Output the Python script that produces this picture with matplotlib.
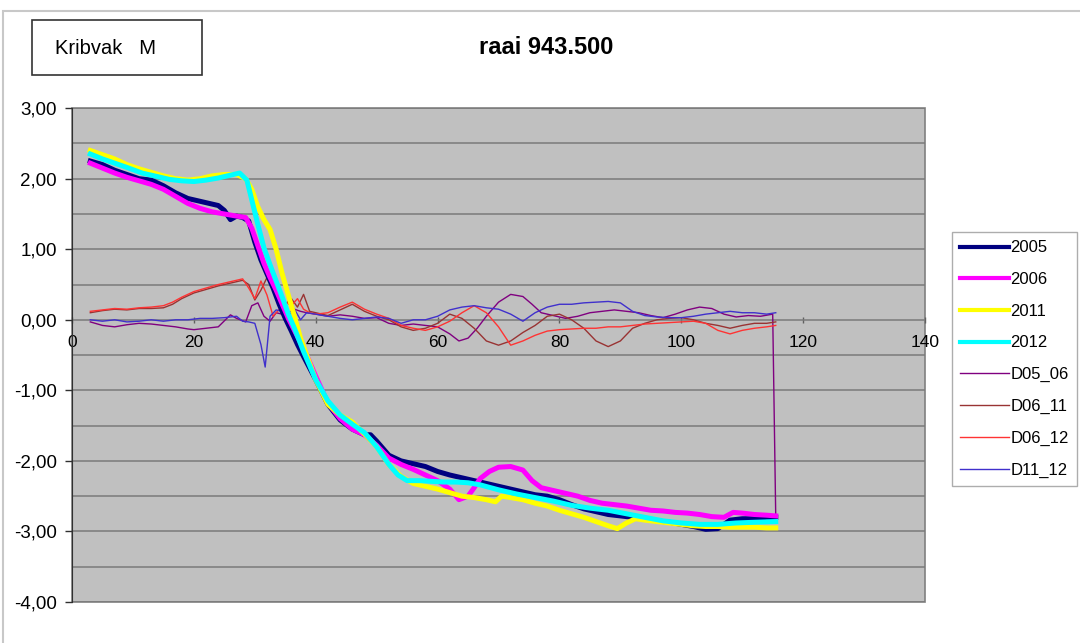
import numpy as np
import matplotlib.pyplot as plt
from matplotlib.patches import Rectangle
from matplotlib.ticker import FuncFormatter, MultipleLocator, FixedLocator
from matplotlib.lines import Line2D

plt.rcParams['font.family'] = ['Liberation Sans', 'DejaVu Sans']

# --- data (afstand, hoogte) ---
x_2005 = [3, 5, 7, 9, 11, 13, 15, 17, 19, 21, 23, 24, 25, 26, 27, 28, 29, 30, 31, 32, 33, 34, 35, 36, 37, 38,
          40, 42, 44, 46, 48, 49, 50, 52, 54, 56, 58, 60, 62, 64, 66, 68, 70, 72, 74, 76, 78, 80, 82, 84, 86,
          88, 90, 92, 94, 96, 98, 100, 102, 104, 106, 108, 110, 112, 114, 115.5]
y_2005 = [2.25, 2.2, 2.12, 2.06, 2.0, 1.98, 1.9, 1.8, 1.72, 1.68, 1.64, 1.62, 1.55, 1.42, 1.47, 1.45, 1.4, 1.1,
          0.85, 0.65, 0.45, 0.22, 0.02, -0.16, -0.35, -0.52, -0.85, -1.2, -1.42, -1.55, -1.63, -1.63, -1.72,
          -1.92, -2.0, -2.04, -2.08, -2.15, -2.2, -2.24, -2.28, -2.32, -2.36, -2.4, -2.44, -2.48, -2.5, -2.55,
          -2.62, -2.68, -2.72, -2.76, -2.78, -2.8, -2.82, -2.85, -2.87, -2.9, -2.93, -2.97, -2.96, -2.84,
          -2.82, -2.82, -2.8, -2.8]

x_2006 = [3, 5, 7, 9, 11, 13, 15, 17, 19, 21, 23, 25, 27, 28.5, 29.5, 30.5, 31.5, 32.5, 33.5, 34.5, 35.5, 36.5,
          37.5, 38.5, 40, 42, 44, 46, 48, 50, 52, 54, 56, 58, 60, 62, 63.5, 65, 66, 67, 68.5, 70, 72, 74, 75.5,
          77, 79, 81, 83, 85, 87, 89, 91, 93, 95, 97, 99, 101, 103, 105, 107, 108.5, 110, 112, 114, 115.5]
y_2006 = [2.22, 2.15, 2.08, 2.02, 1.97, 1.92, 1.85, 1.75, 1.65, 1.58, 1.53, 1.5, 1.47, 1.45, 1.3, 1.05, 0.8,
          0.6, 0.42, 0.22, 0.02, -0.15, -0.32, -0.5, -0.8, -1.18, -1.4, -1.55, -1.63, -1.78, -1.96, -2.05,
          -2.12, -2.2, -2.28, -2.4, -2.55, -2.5, -2.38, -2.25, -2.15, -2.09, -2.08, -2.13, -2.28, -2.38,
          -2.42, -2.46, -2.5, -2.56, -2.6, -2.62, -2.64, -2.67, -2.7, -2.71, -2.73, -2.74, -2.76, -2.79,
          -2.8, -2.73, -2.74, -2.76, -2.77, -2.78]

x_2011 = [3, 5, 7, 9, 11, 13, 15, 17, 19, 21, 23, 25, 27, 28.5, 29.5, 30.5, 31.5, 32.5, 33.5, 34.5, 35.5, 36.5,
          37.5, 38.5, 40, 42, 44, 46, 48, 50, 52, 54, 56, 58, 60, 62, 64, 66, 68, 69.5, 70.5, 72, 74, 76, 78,
          80, 82, 84, 86, 88, 89.5, 91, 92.5, 94, 96, 98, 100, 102, 104, 106, 108, 110, 112, 114, 115.5]
y_2011 = [2.4, 2.34, 2.28, 2.2, 2.14, 2.09, 2.04, 2.0, 1.98, 2.0, 2.04, 2.06, 2.06, 2.0, 1.85, 1.6, 1.42,
          1.28, 1.0, 0.65, 0.35, 0.05, -0.26, -0.5, -0.85, -1.2, -1.35, -1.45, -1.62, -1.8, -2.05, -2.22,
          -2.32, -2.36, -2.4, -2.45, -2.5, -2.52, -2.55, -2.58, -2.5, -2.52, -2.55, -2.6, -2.64, -2.7, -2.75,
          -2.8, -2.86, -2.92, -2.96, -2.88, -2.82, -2.84, -2.86, -2.88, -2.9, -2.92, -2.93, -2.93, -2.94,
          -2.94, -2.94, -2.95, -2.95]

x_2012 = [3, 5, 7, 9, 11.5, 14, 16, 18, 20, 22, 24, 26, 27.5, 28.7, 29.5, 30.5, 31.5, 32.5, 33.5, 34.5, 35.5,
          36.5, 38, 40, 42, 44, 46, 48, 50, 52, 53.5, 55, 57, 59, 61, 63, 65, 67, 70, 73, 76, 79, 82, 85, 88,
          91, 94, 97, 100, 103, 106, 109, 112, 115.5]
y_2012 = [2.35, 2.28, 2.22, 2.16, 2.08, 2.03, 1.99, 1.97, 1.96, 1.98, 2.01, 2.05, 2.08, 1.98, 1.7, 1.35,
          1.02, 0.78, 0.55, 0.32, 0.08, -0.12, -0.45, -0.85, -1.15, -1.35, -1.48, -1.6, -1.8, -2.05, -2.2,
          -2.28, -2.28, -2.29, -2.3, -2.3, -2.31, -2.34, -2.41, -2.47, -2.52, -2.57, -2.63, -2.67, -2.7,
          -2.75, -2.8, -2.85, -2.88, -2.9, -2.9, -2.88, -2.87, -2.86]

x_d0506 = [3, 5, 7, 9, 11, 13, 15, 17, 19, 20, 22, 24, 26, 27, 28.5, 29.5, 30.5, 31.5, 32.5, 33.5, 34.5, 35.5,
           36.5, 37.5, 38.5, 40, 42, 44, 46, 48, 50, 52, 54, 56, 58, 60, 62, 63.5, 65, 66.5, 68, 70, 72, 74,
           75.5, 77, 79, 81, 83, 85, 87, 89, 91, 93, 95, 97, 99, 101, 103, 105, 107, 109, 111, 113, 115, 115.5]
y_d0506 = [-0.03, -0.08, -0.1, -0.07, -0.05, -0.06, -0.08, -0.1, -0.13, -0.14, -0.12, -0.1, 0.07, 0.02,
           -0.03, 0.2, 0.24, 0.05, -0.02, 0.1, 0.08, 0.04, 0.15, 0.12, 0.1, 0.08, 0.05, 0.07, 0.05, 0.02,
           0.03, -0.05, -0.08, -0.06, -0.08, -0.1, -0.2, -0.3, -0.26, -0.12, 0.05, 0.25, 0.36, 0.33, 0.22,
           0.1, 0.06, 0.02, 0.05, 0.1, 0.12, 0.14, 0.12, 0.1, 0.06, 0.03, 0.08, 0.14, 0.18, 0.16, 0.08, 0.04,
           0.06, 0.05, 0.08, -2.8]

x_d = [3, 5, 7, 9, 11, 13, 15, 16.5, 18, 20, 22, 24, 26, 28, 29, 30, 31, 32, 33, 34, 35, 36, 37, 38, 39, 40,
       42, 44, 46, 48, 50, 52, 54, 56, 58, 60, 62, 64, 66, 68, 70, 72, 74, 76, 78, 80, 82, 84, 86, 88, 90, 92,
       94, 96, 98, 100, 102, 104, 106, 108, 110, 112, 114, 115.5]
y_d0611 = [0.1, 0.13, 0.15, 0.14, 0.16, 0.16, 0.17, 0.22, 0.3, 0.38, 0.43, 0.48, 0.52, 0.56, 0.5, 0.28, 0.42,
           0.6, 0.45, 0.3, 0.22, 0.3, 0.18, 0.36, 0.12, 0.1, 0.06, 0.14, 0.22, 0.12, 0.05, 0.0, -0.1, -0.15,
           -0.12, -0.05, 0.08, 0.02, -0.12, -0.3, -0.36, -0.3, -0.18, -0.08, 0.05, 0.08, 0.0, -0.12, -0.3,
           -0.38, -0.3, -0.12, -0.05, 0.0, 0.02, 0.03, 0.0, -0.05, -0.08, -0.12, -0.08, -0.05, -0.05, -0.03]
y_d0612 = [0.12, 0.14, 0.16, 0.15, 0.17, 0.18, 0.2, 0.25, 0.32, 0.4, 0.45, 0.5, 0.54, 0.58, 0.45, 0.3, 0.55,
           0.35, 0.05, 0.15, 0.25, 0.2, 0.3, 0.15, 0.1, 0.08, 0.1, 0.18, 0.25, 0.15, 0.08, 0.02, -0.08, -0.12,
           -0.15, -0.1, -0.02, 0.1, 0.2, 0.1, -0.1, -0.36, -0.3, -0.22, -0.16, -0.14, -0.13, -0.12, -0.12,
           -0.1, -0.1, -0.08, -0.06, -0.05, -0.04, -0.03, -0.02, -0.05, -0.15, -0.2, -0.15, -0.12, -0.1, -0.08]

x_d1112 = [3, 5, 7, 9, 11, 13, 15, 17, 19, 21, 23, 25, 27, 28, 29, 30, 31, 31.7, 32.5, 33.5, 34.5, 35.5, 36.5,
           37.5, 38.5, 40, 42, 44, 46, 48, 50, 52, 54, 56, 58, 60, 62, 64, 66, 68, 70, 72, 74, 76, 78, 80, 82,
           84, 86, 88, 90, 92, 94, 96, 98, 100, 102, 104, 106, 108, 110, 112, 114, 115.5]
y_d1112 = [0.0, -0.02, 0.0, -0.03, -0.02, 0.0, -0.02, 0.0, 0.0, 0.02, 0.02, 0.03, 0.05, -0.02, -0.03, -0.05,
           -0.35, -0.67, 0.05, 0.14, 0.12, 0.1, 0.15, 0.0, 0.1, 0.08, 0.05, 0.02, 0.0, 0.02, 0.04, 0.02, -0.05,
           0.0, 0.0, 0.05, 0.14, 0.18, 0.2, 0.17, 0.15, 0.08, -0.02, 0.1, 0.18, 0.22, 0.22, 0.24, 0.25, 0.26,
           0.24, 0.12, 0.06, 0.04, 0.03, 0.03, 0.05, 0.08, 0.1, 0.12, 0.1, 0.1, 0.08, 0.1]

series = [
    ('2005', x_2005, y_2005, '#000080', 3.6),
    ('2006', x_2006, y_2006, '#FF00FF', 3.6),
    ('2011', x_2011, y_2011, '#FFFF00', 3.6),
    ('2012', x_2012, y_2012, '#00FFFF', 3.6),
    ('D05_06', x_d0506, y_d0506, '#800080', 1.0),
    ('D06_11', x_d, y_d0611, '#993333', 1.0),
    ('D06_12', x_d, y_d0612, '#FF3333', 1.0),
    ('D11_12', x_d1112, y_d1112, '#4030CC', 1.0),
]

fig = plt.figure(figsize=(10.8, 6.43), dpi=100)
# outer chart frame
fig.patches.append(Rectangle((0.003, -0.01), 1.0, 0.9922, transform=fig.transFigure,
                             fill=False, edgecolor='#c8c8c8', linewidth=1.5))

ax = fig.add_axes([0.0667, 0.0638, 0.7898, 0.768])
ax.set_facecolor('#C0C0C0')
ax.patch.set_edgecolor('#808080')
ax.patch.set_linewidth(1.2)

# thin difference lines first, thick year lines on top
for name, xs, ys, col, lw in series[4:] + series[:4]:
    ax.plot(xs, ys, color=col, linewidth=lw, solid_joinstyle='round', zorder=3 if lw > 2 else 2)

ax.set_xlim(0, 140)
ax.set_ylim(-4, 3)

ax.yaxis.set_major_locator(MultipleLocator(1))
ax.yaxis.set_minor_locator(FixedLocator([-3.5, -2.5, -1.5, -0.5, 0.5, 1.5, 2.5]))
ax.yaxis.set_major_formatter(FuncFormatter(lambda v, p: f'{v:.2f}'.replace('.', ',')))
ax.grid(which='both', axis='y', color='#7a7a7a', linewidth=1.1, zorder=1)
ax.set_axisbelow(True)

ax.xaxis.set_major_locator(MultipleLocator(20))
ax.spines['bottom'].set_position(('data', 0))
ax.spines['bottom'].set_color('none')
ax.spines['top'].set_visible(False)
ax.spines['right'].set_visible(False)
ax.spines['left'].set_color('#303030')

ax.tick_params(axis='y', which='major', length=5, width=1, color='#303030', pad=6, labelsize=13.5)
ax.tick_params(axis='y', which='minor', length=0)
ax.tick_params(axis='x', length=4, width=1, color='#606060', direction='inout', pad=9, labelsize=12.5)

handles = [Line2D([], [], color=col, linewidth=(3.0 if lw > 2 else 1.0)) for name, xs, ys, col, lw in series]
labels = [s[0] for s in series]
leg = fig.legend(handles, labels, loc='upper left', bbox_to_anchor=(952 / 1080, 1 - 232 / 643),
                 bbox_transform=fig.transFigure, fontsize=12, frameon=True, fancybox=False,
                 handlelength=2.9, handletextpad=0.1, labelspacing=1.0, borderpad=0.5,
                 borderaxespad=0)
leg.get_frame().set_edgecolor('#999999')
leg.get_frame().set_linewidth(1.0)

fig.text(546 / 1080, 1 - 47 / 643, 'raai 943.500', ha='center', va='center',
         fontsize=17, fontweight='bold')

fig.patches.append(Rectangle((32 / 1080, 1 - 75 / 643), 170 / 1080, 55 / 643, transform=fig.transFigure,
                             fill=False, edgecolor='#333333', linewidth=1.2))
fig.text(55 / 1080, 1 - 48 / 643, 'Kribvak   M', ha='left', va='center', fontsize=14.5)

fig.savefig('out.png', dpi=100)
